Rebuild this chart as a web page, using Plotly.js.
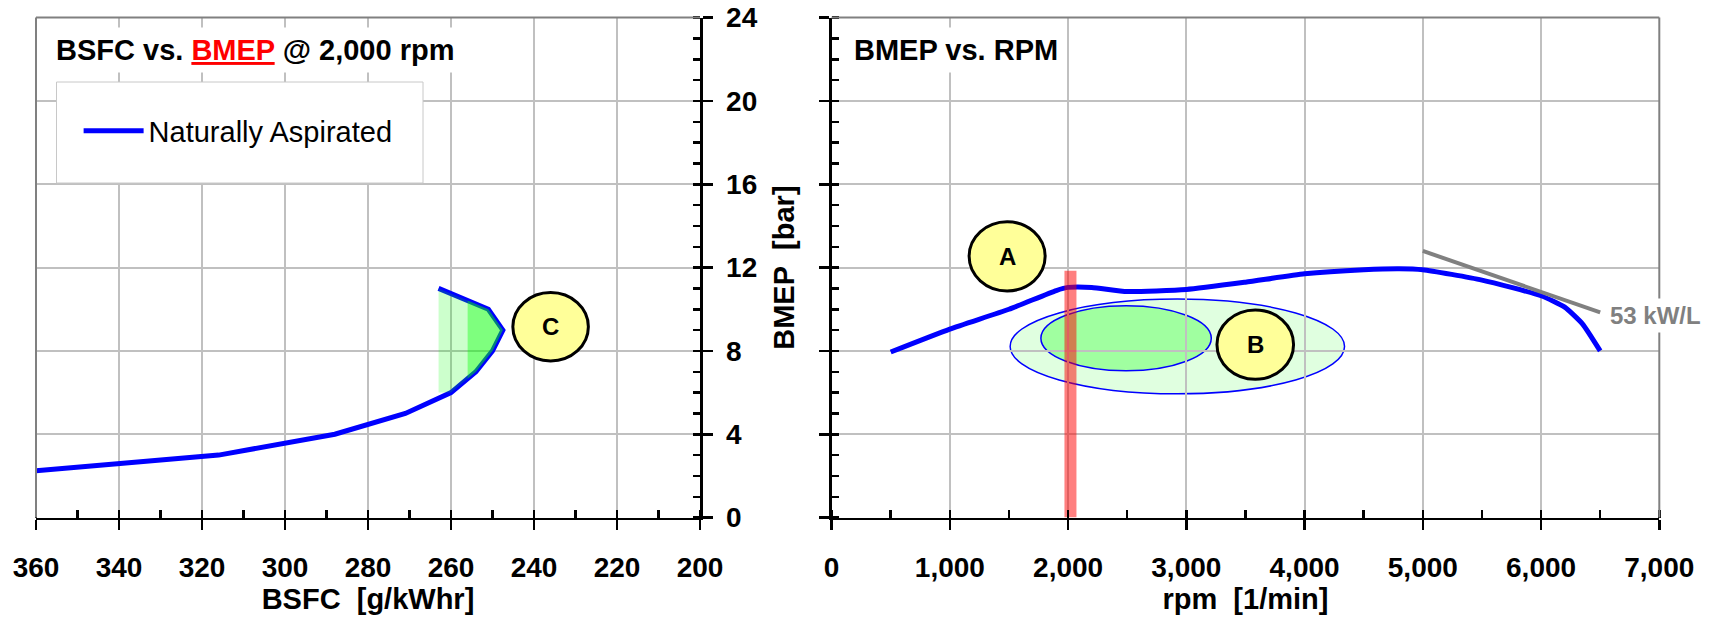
<!DOCTYPE html>
<html>
<head>
<meta charset="utf-8">
<script src="https://cdn.plot.ly/plotly-3.0.1.min.js"></script>
<style>html,body{margin:0;padding:0;background:#fff;}#chart{width:1709px;height:619px;}</style>
</head>
<body>
<div id="chart"></div>
<script>
// ---- Data ----
// Left panel: BSFC vs. BMEP @ 2,000 rpm (naturally aspirated)
const bsfcNA = [360, 316, 288, 271, 260, 254, 250, 247.5, 251, 263];
const bmepNA = [2.25, 3.0, 4.0, 5.0, 6.0, 7.0, 8.0, 9.0, 10.0, 11.0];
// highlighted BSFC zones (light / bright green)
const zoneLightBsfc = [263, 260, 254, 250, 247.5, 251, 263];
const zoneLightBmep = [6.0, 6.0, 7.0, 8.0, 9.0, 10.0, 11.0];
const zoneBrightBsfc = [256, 254, 250, 247.5, 251, 256];
const zoneBrightBmep = [6.67, 7.0, 8.0, 9.0, 10.0, 10.42];

// Right panel: BMEP vs. RPM
const rpm = [500, 1000, 1500, 1900, 2000, 2200, 2500, 3000, 3500, 4000, 4500, 4800, 5000, 5500, 6000, 6200, 6350, 6500];
const bmepRpm = [7.95, 9.05, 10.0, 10.9, 11.05, 11.05, 10.85, 10.95, 11.3, 11.7, 11.9, 11.95, 11.9, 11.4, 10.65, 10.1, 9.3, 8.0];
// constant power line 53 kW/L
const powerRpm = [5000, 6500];
const powerBmep = [12.8, 9.85];
// 2,000 rpm operating bar
const barRpm = [2020, 2020];
const barBmep = [0, 11.85];

// Tick values
const bsfcTicks = [360, 340, 320, 300, 280, 260, 240, 220, 200];
const bmepTicks = [0, 4, 8, 12, 16, 20, 24];
const rpmTicks = [0, 1000, 2000, 3000, 4000, 5000, 6000, 7000];
const rpmTickText = ['0', '1,000', '2,000', '3,000', '4,000', '5,000', '6,000', '7,000'];

// ---- Styles ----
const FONT = 'Liberation Sans, Arial, Helvetica, sans-serif';
const BLUE = '#0000ff';
const GRID = '#c0c0c0';
const FRAME = '#808080';

const traces = [
  {x: bsfcNA, y: bmepNA, xaxis: 'x', yaxis: 'y', mode: 'lines', name: 'Naturally Aspirated',
   line: {color: BLUE, width: 5}, showlegend: true, hoverinfo: 'skip'},
  {x: zoneLightBsfc, y: zoneLightBmep, xaxis: 'x', yaxis: 'y', mode: 'lines', fill: 'toself',
   fillcolor: 'rgba(0,255,0,0.2)', line: {width: 0}, showlegend: false, hoverinfo: 'skip'},
  {x: zoneBrightBsfc, y: zoneBrightBmep, xaxis: 'x', yaxis: 'y', mode: 'lines', fill: 'toself',
   fillcolor: 'rgba(0,255,0,0.38)', line: {width: 0}, showlegend: false, hoverinfo: 'skip'},
  {x: rpm, y: bmepRpm, xaxis: 'x2', yaxis: 'y2', mode: 'lines', name: 'BMEP',
   line: {color: BLUE, width: 5, shape: 'spline', smoothing: 0.5}, showlegend: false, hoverinfo: 'skip'},
  {x: powerRpm, y: powerBmep, xaxis: 'x2', yaxis: 'y2', mode: 'lines', name: '53 kW/L',
   line: {color: '#808080', width: 4}, showlegend: false, hoverinfo: 'skip'},
  {x: barRpm, y: barBmep, xaxis: 'x2', yaxis: 'y2', mode: 'lines', name: '2,000 rpm',
   line: {color: 'rgba(255,0,0,0.5)', width: 12}, showlegend: false, hoverinfo: 'skip'}
];

const tickFont = {family: FONT, size: 28, color: '#000', weight: 'bold'};
const titleFont = {family: FONT, size: 29, color: '#000', weight: 'bold'};

const xDomL = [36 / 1709, 700 / 1709];
const xDomR = [831.6 / 1709, 1659.3 / 1709];
const yDom = [(619 - 517.6) / 619, (619 - 17.6) / 619];

function mainAxis(extra) {
  return Object.assign({
    showline: true, linecolor: '#000', linewidth: 2.5,
    ticks: 'outside', ticklen: 10, tickwidth: 2.5, tickcolor: '#000',
    showgrid: true, gridcolor: GRID, gridwidth: 2,
    zeroline: false, automargin: false, fixedrange: true,
    tickfont: tickFont
  }, extra);
}
function crossAxis(extra) {
  return Object.assign({
    showline: false, ticks: 'inside', ticklen: 10, tickwidth: 2.5, tickcolor: '#000',
    showgrid: false, zeroline: false, showticklabels: false, automargin: false, fixedrange: true
  }, extra);
}
const minorX = (d) => ({dtick: d, ticks: 'inside', ticklen: 8, tickwidth: 2.5, tickcolor: '#000', showgrid: false});
const minorY = {dtick: 1, ticks: 'inside', ticklen: 7, tickwidth: 2.5, tickcolor: '#000', showgrid: false};

const layout = {
  width: 1709, height: 619,
  margin: {l: 0, r: 0, t: 0, b: 0},
  paper_bgcolor: '#fff', plot_bgcolor: '#fff',
  font: {family: FONT, color: '#000'},
  showlegend: true,
  legend: {
    x: 0.046, y: (619 - 131) / 619, xanchor: 'left', yanchor: 'middle',
    bgcolor: 'rgba(0,0,0,0)', borderwidth: 0, itemwidth: 60,
    font: {family: FONT, size: 29, color: '#000'}
  },
  xaxis: mainAxis({domain: xDomL, anchor: 'y', range: [360, 200], tickvals: bsfcTicks,
    minor: minorX(10), ticklabelstandoff: 13,
    title: {text: 'BSFC&nbsp; [g/kWhr]', font: titleFont, standoff: 3}}),
  yaxis: mainAxis({domain: yDom, anchor: 'x', side: 'right', range: [0, 24], tickvals: bmepTicks,
    minor: minorY, ticklabelstandoff: 8}),
  xaxis2: mainAxis({domain: xDomR, anchor: 'y2', range: [0, 7000], tickvals: rpmTicks, ticktext: rpmTickText,
    minor: minorX(500), ticklabelstandoff: 13,
    title: {text: 'rpm&nbsp; [1/min]', font: titleFont, standoff: 3}}),
  yaxis2: mainAxis({domain: yDom, anchor: 'x2', side: 'left', range: [0, 24], tickvals: bmepTicks,
    showticklabels: false, minor: minorY,
    title: {text: 'BMEP&nbsp; [bar]', font: titleFont, standoff: 16}}),
  xaxis3: crossAxis({overlaying: 'x', anchor: 'y', range: [360, 200], tickvals: bsfcTicks}),
  yaxis3: crossAxis({overlaying: 'y', anchor: 'x', side: 'right', range: [0, 24], tickvals: bmepTicks}),
  xaxis4: crossAxis({overlaying: 'x2', anchor: 'y2', range: [0, 7000], tickvals: rpmTicks}),
  yaxis4: crossAxis({overlaying: 'y2', anchor: 'x2', side: 'left', range: [0, 24], tickvals: bmepTicks}),
  shapes: [
    // operating regions (right panel)
    {type: 'circle', xref: 'x2', yref: 'y2', x0: 1510, x1: 4338, y0: 5.94, y1: 10.49,
     fillcolor: 'rgba(0,255,0,0.12)', line: {color: BLUE, width: 1.5}, layer: 'below'},
    {type: 'circle', xref: 'x2', yref: 'y2', x0: 1770, x1: 3211, y0: 7.05, y1: 10.17,
     fillcolor: 'rgba(0,255,0,0.286)', line: {color: BLUE, width: 1.5}, layer: 'below'},
    // panel frames (gray top/left for left panel, gray top/right for right panel)
    {type: 'line', xref: 'paper', yref: 'paper', x0: xDomL[0], x1: xDomL[1], y0: yDom[1], y1: yDom[1], line: {color: FRAME, width: 2}, layer: 'above'},
    {type: 'line', xref: 'paper', yref: 'paper', x0: xDomL[0], x1: xDomL[0], y0: yDom[0], y1: yDom[1], line: {color: FRAME, width: 2}, layer: 'above'},
    {type: 'line', xref: 'paper', yref: 'paper', x0: xDomR[0], x1: xDomR[1], y0: yDom[1], y1: yDom[1], line: {color: FRAME, width: 2}, layer: 'above'},
    {type: 'line', xref: 'paper', yref: 'paper', x0: xDomR[1], x1: xDomR[1], y0: yDom[0], y1: yDom[1], line: {color: FRAME, width: 2}, layer: 'above'},
    // legend box
    {type: 'rect', xref: 'paper', yref: 'paper', x0: 56.5 / 1709, x1: 423 / 1709, y0: (619 - 183) / 619, y1: (619 - 82) / 619,
     fillcolor: '#fff', line: {color: '#c8c8c8', width: 1}, layer: 'above'},
    // yellow labels
    {type: 'circle', xref: 'x2', yref: 'y2', x0: 1163, x1: 1806, y0: 10.88, y1: 14.2,
     fillcolor: '#ffff99', line: {color: '#000', width: 3}, layer: 'above'},
    {type: 'circle', xref: 'x2', yref: 'y2', x0: 3259, x1: 3907, y0: 6.64, y1: 9.97,
     fillcolor: '#ffff99', line: {color: '#000', width: 3}, layer: 'above'},
    {type: 'circle', xref: 'x', yref: 'y', x0: 245.1, x1: 226.9, y0: 7.52, y1: 10.8,
     fillcolor: '#ffff99', line: {color: '#000', width: 3}, layer: 'above'}
  ],
  annotations: [
    {xref: 'paper', yref: 'paper', x: 49 / 1709, y: (619 - 50) / 619, xanchor: 'left', yanchor: 'middle',
     text: 'BSFC vs. <span style="color:#ff0000;text-decoration:underline">BMEP</span> @ 2,000 rpm',
     showarrow: false, bgcolor: '#fff', borderpad: 6, font: titleFont},
    {xref: 'paper', yref: 'paper', x: 847 / 1709, y: (619 - 50) / 619, xanchor: 'left', yanchor: 'middle',
     text: 'BMEP vs. RPM', showarrow: false, bgcolor: '#fff', borderpad: 6, font: titleFont},
    {xref: 'x2', yref: 'y2', x: 6545, y: 9.69, xanchor: 'left', yanchor: 'middle', text: '53 kW/L',
     showarrow: false, bgcolor: '#fff', borderpad: 3,
     font: {family: FONT, size: 24, color: '#808080', weight: 'bold'}},
    {xref: 'x2', yref: 'y2', x: 1485, y: 12.54, text: 'A', showarrow: false,
     font: {family: FONT, size: 24, color: '#000', weight: 'bold'}},
    {xref: 'x2', yref: 'y2', x: 3583, y: 8.3, text: 'B', showarrow: false,
     font: {family: FONT, size: 24, color: '#000', weight: 'bold'}},
    {xref: 'x', yref: 'y', x: 236, y: 9.16, text: 'C', showarrow: false,
     font: {family: FONT, size: 24, color: '#000', weight: 'bold'}}
  ]
};

Plotly.newPlot('chart', traces, layout, {displayModeBar: false, staticPlot: true});
</script>
</body>
</html>
